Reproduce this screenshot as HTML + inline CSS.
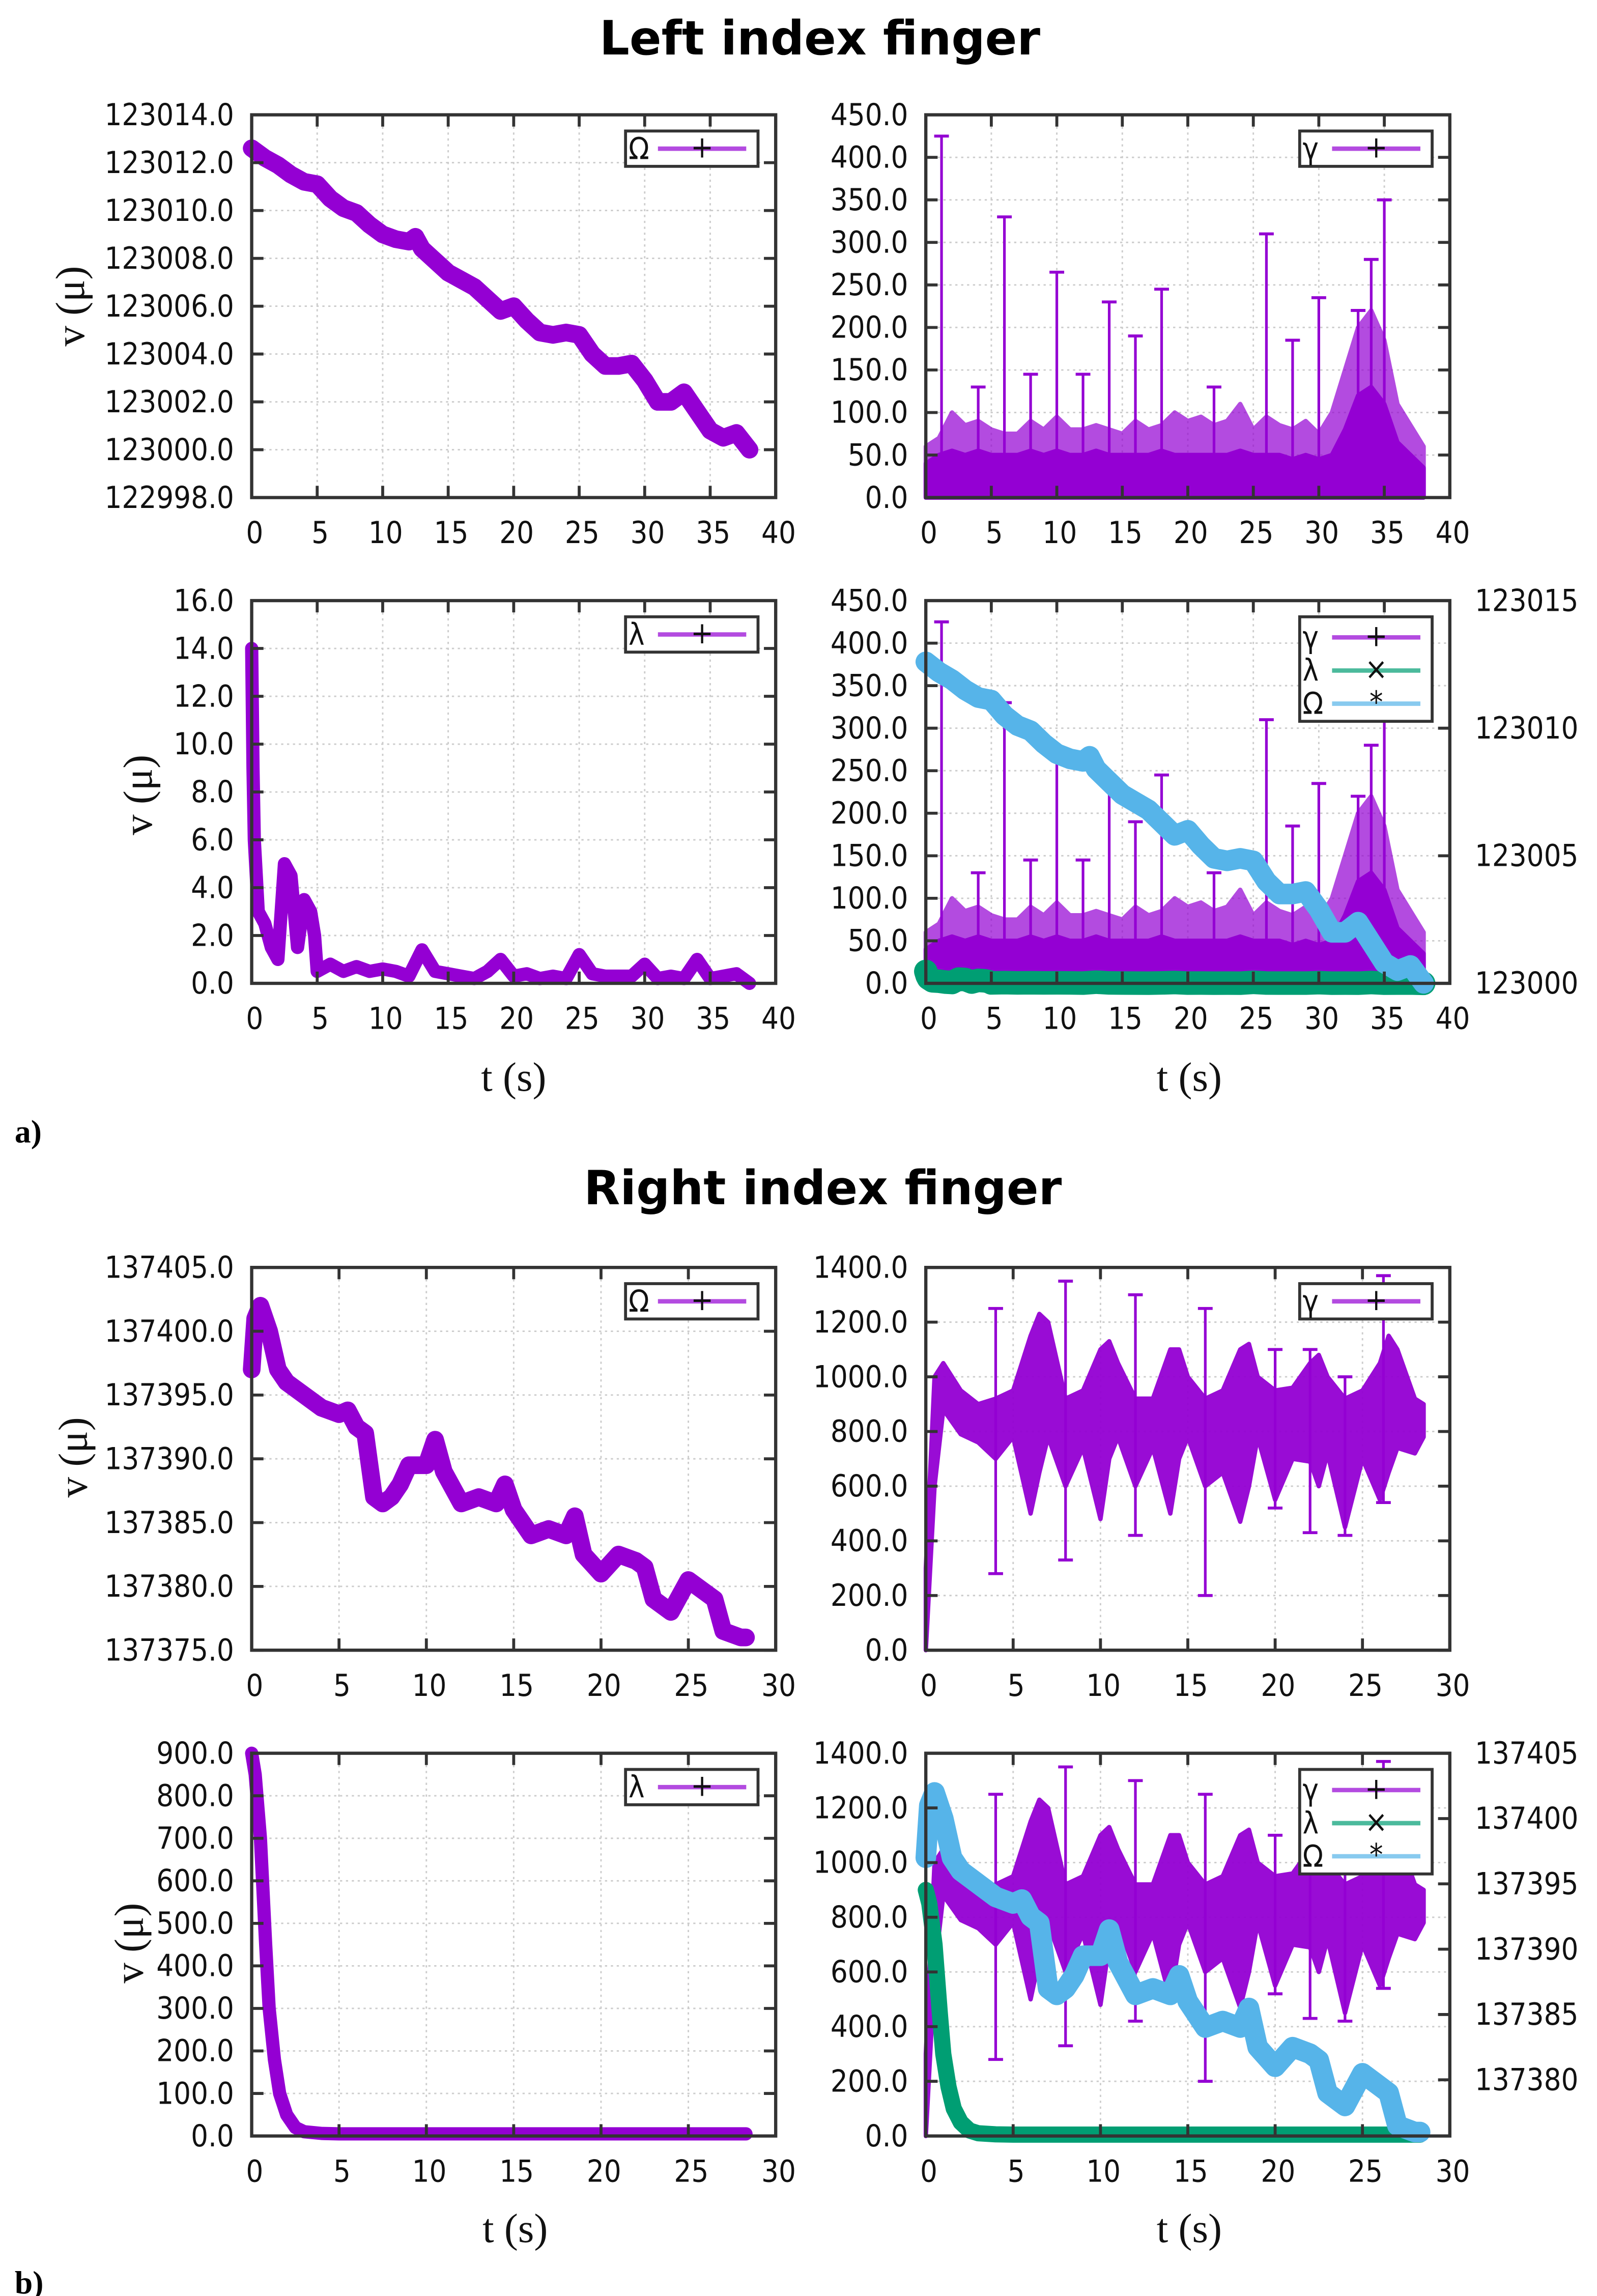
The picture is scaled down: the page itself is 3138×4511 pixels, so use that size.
<!DOCTYPE html>
<html><head><meta charset="utf-8"><style>
html,body{margin:0;padding:0;background:#fff;}
svg{display:block;}
.tk{font-family:"DejaVu Sans Condensed","DejaVu Sans","Liberation Sans",sans-serif;font-stretch:condensed;font-size:20.5px;fill:#111;}
.ttl{font-family:"DejaVu Sans","Liberation Sans",sans-serif;font-weight:bold;font-size:32px;fill:#000;}
.ax{font-family:"Liberation Serif","DejaVu Serif",serif;font-size:28px;fill:#111;}
.lab{font-family:"Liberation Serif",serif;font-weight:bold;font-size:22px;fill:#000;}
</style></head><body>
<svg id="fig" width="3138" height="4511" viewBox="0 0 1085 1559.7" preserveAspectRatio="none" xmlns="http://www.w3.org/2000/svg">
<text class="ttl" x="557" y="37" text-anchor="middle">Left index finger</text>
<text class="ttl" x="559" y="818" text-anchor="middle">Right index finger</text>
<text class="lab" x="10" y="776">a)</text>
<text class="lab" x="10" y="1558">b)</text>
<text class="ax" x="349" y="741" text-anchor="middle">t (s)</text>
<text class="ax" x="808" y="741" text-anchor="middle">t (s)</text>
<text class="ax" x="350" y="1523" text-anchor="middle">t (s)</text>
<text class="ax" x="808" y="1523" text-anchor="middle">t (s)</text>
<text class="ax" transform="translate(57,208) rotate(-90)" text-anchor="middle">v (μ)</text>
<text class="ax" transform="translate(103,540) rotate(-90)" text-anchor="middle">v (μ)</text>
<text class="ax" transform="translate(59,990) rotate(-90)" text-anchor="middle">v (μ)</text>
<text class="ax" transform="translate(97,1320) rotate(-90)" text-anchor="middle">v (μ)</text>
</svg>
<script>
// ---------- data: left finger ----------
const aOmegaT = [0,1,2,3,4,5,6,7,8,9,10,11,12,12.5,13,14,15,16,17,18,19,20,21,22,23,24,25,26,27,28,29,30,31,32,33,34,35,36,37,38];
const aOmegaV = [123012.6,123012.2,123011.9,123011.5,123011.2,123011.1,123010.5,123010.1,123009.9,123009.4,123009.0,123008.8,123008.7,123008.9,123008.4,123007.9,123007.4,123007.1,123006.8,123006.3,123005.8,123006.0,123005.4,123004.9,123004.8,123004.9,123004.8,123004.0,123003.5,123003.5,123003.6,123002.9,123002.0,123002.0,123002.4,123001.6,123000.8,123000.5,123000.7,123000.0];
const aGammaT = [0,1,2,3,4,5,6,7,8,9,10,11,12,13,14,15,16,17,18,19,20,21,22,23,24,25,26,27,28,29,30,31,32,33,34,35,36,37,38];
const aGammaDense = [40,50,55,50,55,50,50,50,55,50,55,50,50,55,50,50,50,50,55,50,50,50,50,50,55,50,50,50,45,50,45,50,80,120,130,110,65,50,35];
const aGammaSparse = [60,70,100,85,90,80,75,75,90,80,95,80,80,85,80,75,90,80,85,100,90,95,85,90,110,80,95,85,80,90,75,100,150,200,220,185,110,85,60];
const aSpikeT = [1.2,4,6,8,10,12,14,16,18,22,26,28,30,33,34,35];
const aSpikeV = [425,130,330,145,265,145,230,190,245,130,310,185,235,220,280,350];
const aLambdaT = [0,0.1,0.2,0.5,1,1.5,2,2.5,3,3.5,4,4.5,4.8,5,6,7,8,9,10,11,12,13,14,15,16,17,18,19,20,21,22,23,24,25,26,27,28,29,30,31,32,33,34,35,36,37,38];
const aLambdaV = [14,9,6,3,2.5,1.5,1,5,4.5,1.5,3.5,3,2,0.5,0.8,0.5,0.7,0.5,0.6,0.5,0.3,1.4,0.5,0.4,0.3,0.2,0.5,1,0.3,0.4,0.2,0.3,0.2,1.2,0.4,0.3,0.3,0.3,0.8,0.2,0.3,0.2,1,0.2,0.3,0.4,0];
// ---------- data: right finger ----------
const bOmegaT = [0,0.2,0.5,1,1.5,2,3,4,5,5.5,6,6.5,7,7.5,8,8.5,9,10,10.5,11,12,13,14,14.5,15,16,17,18,18.5,19,20,21,22,22.5,23,24,25,26,26.5,27,28,28.3];
const bOmegaV = [137397,137401,137402,137400,137397,137396,137395,137394,137393.5,137393.8,137392.5,137392,137387,137386.5,137387,137388,137389.5,137389.5,137391.5,137389,137386.5,137387,137386.5,137388,137386,137384,137384.5,137384,137385.5,137382.5,137381,137382.5,137382,137381.5,137379,137378,137380.5,137379.5,137379,137376.5,137376,137376];
const bGammaT = [0,0.5,1,2,3,4,5,6,6.5,7,8,9,10,10.5,11,12,13,14,14.5,15,16,17,18,18.5,19,20,21,22,22.5,23,24,25,26,26.5,27,28,28.5];
const bGammaUp = [300,1000,1050,950,900,920,950,1150,1230,1200,920,950,1100,1130,1050,920,920,1100,1100,1000,920,950,1100,1120,1000,950,960,1050,1080,1000,920,950,1050,1150,1100,920,900];
const bGammaLo = [0,600,880,790,760,700,780,500,650,780,600,740,480,700,780,600,740,500,700,780,600,650,470,600,780,550,700,690,600,720,450,700,550,650,740,720,780];
const bSpikeT = [4,8,12,16,20,22,24,26.2];
const bSpikeTop = [1250,1350,1300,1250,1100,1100,1000,1370];
const bSpikeBot = [280,330,420,200,520,430,420,540];
const bLambdaT = [0,0.2,0.5,0.8,1,1.3,1.6,2,2.5,3,4,5,10,15,20,25,28.3];
const bLambdaV = [900,850,700,450,300,180,100,50,20,10,6,5,5,5,5,5,5];
// ---------- tick labels ----------
const aXTicks = [0,5,10,15,20,25,30,35,40];
const bXTicks = [0,5,10,15,20,25,30];
const a1YTicks = [122998,123000,123002,123004,123006,123008,123010,123012,123014];
const a2YTicks = [0,50,100,150,200,250,300,350,400,450];
const a3YTicks = [0,2,4,6,8,10,12,14,16];
const a4RTicks = [123000,123005,123010,123015];
const b1YTicks = [137375,137380,137385,137390,137395,137400,137405];
const b2YTicks = [0,200,400,600,800,1000,1200,1400];
const b3YTicks = [0,100,200,300,400,500,600,700,800,900];
const b4RTicks = [137380,137385,137390,137395,137400,137405];

const NS='http://www.w3.org/2000/svg';
const fig=document.getElementById('fig');
const PURPLE='#9400d3', GREEN='#009e73', BLUE='#56b4e9';
function mk(tag,attrs,parent){const e=document.createElementNS(NS,tag);for(const k in attrs)e.setAttribute(k,attrs[k]);(parent||fig).appendChild(e);return e;}

function panel(p){
  const g=mk('g',{});
  
  
  const X=t=>p.x0+(t-p.xmin)/(p.xmax-p.xmin)*(p.x1-p.x0);
  const Y=v=>p.y1-(v-p.ymin)/(p.ymax-p.ymin)*(p.y1-p.y0);
  const YR=p.rmin!==undefined?(v=>p.y1-(v-p.rmin)/(p.rmax-p.rmin)*(p.y1-p.y0)):null;
  p.xt.forEach(t=>{const l=mk('line',{x1:X(t),x2:X(t),y1:p.y0,y2:p.y1,stroke:'#ccc','stroke-width':1,'stroke-dasharray':'1.5 2.5'},g);
    
    });
  p.yt.forEach(v=>{const l=mk('line',{x1:p.x0,x2:p.x1,y1:Y(v),y2:Y(v),stroke:'#ccc','stroke-width':1,'stroke-dasharray':'1.5 2.5'},g);
    
    });
  p.draw(g,X,Y,YR);
  const fr=mk('rect',{x:p.x0,y:p.y0,width:p.x1-p.x0,height:p.y1-p.y0,fill:'none',stroke:'#333','stroke-width':2.2},g);
  
  
  p.xt.forEach(t=>{
    mk('line',{x1:X(t),x2:X(t),y1:p.y1,y2:p.y1-8,stroke:'#333','stroke-width':2},g);
    mk('line',{x1:X(t),x2:X(t),y1:p.y0,y2:p.y0+8,stroke:'#333','stroke-width':2},g);
    const tx=mk('text',{class:'tk',x:X(t)+2,y:p.y1+31,'text-anchor':'middle'},g);tx.textContent=t;
    
    
  });
  p.yt.forEach(v=>{
    mk('line',{x1:p.x0,x2:p.x0+8,y1:Y(v),y2:Y(v),stroke:'#333','stroke-width':2},g);
    if(!YR) mk('line',{x1:p.x1,x2:p.x1-8,y1:Y(v),y2:Y(v),stroke:'#333','stroke-width':2},g);
    const tx=mk('text',{class:'tk',x:p.x0-12,y:Y(v)+7,'text-anchor':'end'},g);tx.textContent=v.toFixed(1);
    
    
  });
  if(YR) p.rt.forEach(v=>{
    mk('line',{x1:p.x1,x2:p.x1-8,y1:YR(v),y2:YR(v),stroke:'#333','stroke-width':2},g);
    const tx=mk('text',{class:'tk',x:p.x1+17,y:YR(v)+7,'text-anchor':'start'},g);tx.textContent=v;
    
    
  });
  const n=p.legend.length,lx=p.x1-102,ly=p.y0+11,lh=n===1?24:71;
  const lg=mk('g',{},g);
  
  
  mk('rect',{x:lx,y:ly,width:90,height:lh,fill:'#fff',stroke:'#333','stroke-width':2},lg);
  p.legend.forEach((e,i)=>{
    const cy=n===1?ly+12:ly+14+i*22.5;
    const tx=mk('text',{class:'tk',x:lx+2,y:cy+7},lg);tx.textContent=e[0];
    
    
    mk('line',{x1:lx+22,x2:lx+82,y1:cy,y2:cy,stroke:e[1],'stroke-width':3,opacity:0.7},lg);
    mk('text',{class:'tk',x:lx+52,y:cy+6,'text-anchor':'middle',fill:e[1]},lg).textContent=e[2];
  });
}
function line(g,X,Y,ts,vs,col,w,name){
  const pl=mk('polyline',{points:ts.map((t,i)=>X(t)+','+Y(vs[i])).join(' '),fill:'none',stroke:col,'stroke-width':w,'stroke-linejoin':'round','stroke-linecap':'round'},g);
  
  
}
function area(g,X,Y,ts,up,lo,col,op,name){
  const pts=ts.map((t,i)=>X(t)+','+Y(up[i])).concat(ts.slice().reverse().map((t,j)=>{const i=ts.length-1-j;return X(t)+','+Y(lo?lo[i]:0);}));
  const pg=mk('polygon',{points:pts.join(' '),fill:col,opacity:op,stroke:col,'stroke-width':3,'stroke-linejoin':'round'},g);
  
  
}
function spikes(g,X,Y,ts,tops,bots,name){
  ts.forEach((t,i)=>{
    const l=mk('line',{x1:X(t),x2:X(t),y1:Y(tops[i]),y2:Y(bots?bots[i]:0),stroke:PURPLE,'stroke-width':1.8},g);
    
    
    mk('line',{x1:X(t)-5,x2:X(t)+5,y1:Y(tops[i]),y2:Y(tops[i]),stroke:PURPLE,'stroke-width':2},g);
    if(bots) mk('line',{x1:X(t)-5,x2:X(t)+5,y1:Y(bots[i]),y2:Y(bots[i]),stroke:PURPLE,'stroke-width':2},g);
  });
}
const aGammaDraw=(g,X,Y)=>{
  area(g,X,Y,aGammaT,aGammaSparse,null,PURPLE,0.7,'gamma-sparse-area');
  area(g,X,Y,aGammaT,aGammaDense,null,PURPLE,1,'gamma-dense-area');
  spikes(g,X,Y,aSpikeT,aSpikeV,null,'gamma-spike');
};
const bGammaDraw=(g,X,Y)=>{
  area(g,X,Y,bGammaT,bGammaUp,bGammaLo,PURPLE,0.95,'gamma-band');
  spikes(g,X,Y,bSpikeT,bSpikeTop,bSpikeBot,'gamma-spike');
};
const L1=[['Ω',PURPLE,'+']],LG=[['γ',PURPLE,'+']],LL=[['λ',PURPLE,'+']];
const L3=[['γ',PURPLE,'+'],['λ',GREEN,'×'],['Ω',BLUE,'*']];

panel({name:'panel-a1-omega',x0:171,x1:527,y0:78,y1:338,xmin:0,xmax:40,ymin:122998,ymax:123014,xt:aXTicks,yt:a1YTicks,legend:L1,
  draw:(g,X,Y)=>line(g,X,Y,aOmegaT,aOmegaV,PURPLE,12,'omega-line')});
panel({name:'panel-a2-gamma',x0:629,x1:985,y0:78,y1:338,xmin:0,xmax:40,ymin:0,ymax:450,xt:aXTicks,yt:a2YTicks,legend:LG,draw:aGammaDraw});
panel({name:'panel-a3-lambda',x0:171,x1:527,y0:408,y1:668,xmin:0,xmax:40,ymin:0,ymax:16,xt:aXTicks,yt:a3YTicks,legend:LL,
  draw:(g,X,Y)=>line(g,X,Y,aLambdaT,aLambdaV,PURPLE,9,'lambda-line')});
panel({name:'panel-a4-combined',x0:629,x1:985,y0:408,y1:668,xmin:0,xmax:40,ymin:0,ymax:450,rmin:123000,rmax:123015,xt:aXTicks,yt:a2YTicks,rt:a4RTicks,legend:L3,
  draw:(g,X,Y,YR)=>{aGammaDraw(g,X,Y);line(g,X,Y,aLambdaT,aLambdaV,GREEN,16,'lambda-line');line(g,X,YR,aOmegaT,aOmegaV,BLUE,14,'omega-line');}});
panel({name:'panel-b1-omega',x0:171,x1:527,y0:861,y1:1121,xmin:0,xmax:30,ymin:137375,ymax:137405,xt:bXTicks,yt:b1YTicks,legend:L1,
  draw:(g,X,Y)=>line(g,X,Y,bOmegaT,bOmegaV,PURPLE,12,'omega-line')});
panel({name:'panel-b2-gamma',x0:629,x1:985,y0:861,y1:1121,xmin:0,xmax:30,ymin:0,ymax:1400,xt:bXTicks,yt:b2YTicks,legend:LG,draw:bGammaDraw});
panel({name:'panel-b3-lambda',x0:171,x1:527,y0:1191,y1:1451,xmin:0,xmax:30,ymin:0,ymax:900,xt:bXTicks,yt:b3YTicks,legend:LL,
  draw:(g,X,Y)=>line(g,X,Y,bLambdaT,bLambdaV,PURPLE,9,'lambda-line')});
panel({name:'panel-b4-combined',x0:629,x1:985,y0:1191,y1:1451,xmin:0,xmax:30,ymin:0,ymax:1400,rmin:137375.7,rmax:137405,xt:bXTicks,yt:b2YTicks,rt:b4RTicks,legend:L3,
  draw:(g,X,Y,YR)=>{bGammaDraw(g,X,Y);line(g,X,Y,bLambdaT,bLambdaV,GREEN,11,'lambda-line');line(g,X,YR,bOmegaT,bOmegaV,BLUE,14,'omega-line');}});
</script>
</body></html>
